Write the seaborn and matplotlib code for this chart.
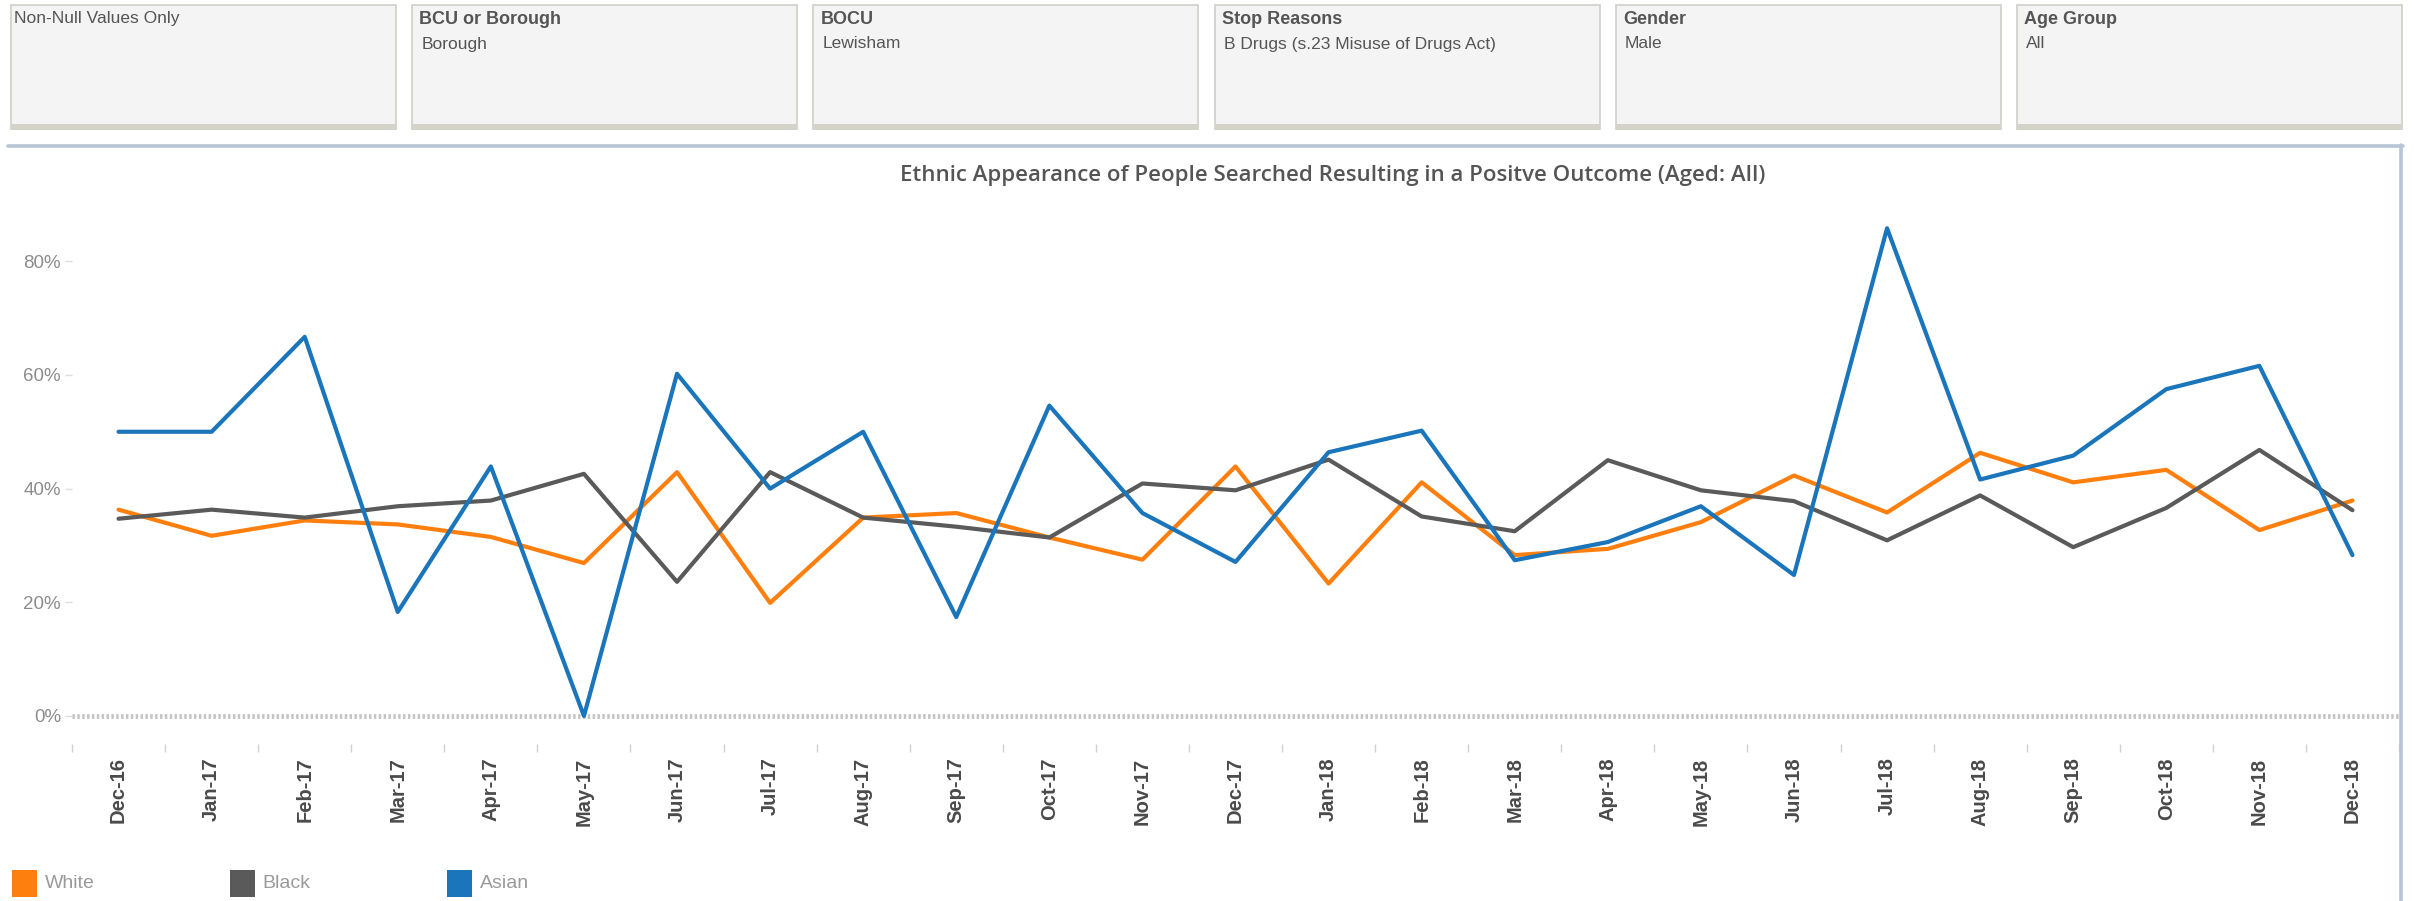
import numpy as np
import pandas as pd
import matplotlib.pyplot as plt
import seaborn as sns
from matplotlib.patches import Rectangle
from matplotlib.lines import Line2D

# data (percent)
months = ['Dec-16', 'Jan-17', 'Feb-17', 'Mar-17', 'Apr-17', 'May-17', 'Jun-17',
          'Jul-17', 'Aug-17', 'Sep-17', 'Oct-17', 'Nov-17', 'Dec-17', 'Jan-18',
          'Feb-18', 'Mar-18', 'Apr-18', 'May-18', 'Jun-18', 'Jul-18', 'Aug-18',
          'Sep-18', 'Oct-18', 'Nov-18', 'Dec-18']
white = [36.3, 31.7, 34.4, 33.7, 31.5, 26.9, 42.9, 19.9, 34.9, 35.7, 31.4, 27.5,
         43.9, 23.3, 41.1, 28.3, 29.4, 34.1, 42.3, 35.8, 46.3, 41.1, 43.3, 32.7, 37.9]
black = [34.7, 36.3, 34.9, 36.9, 37.9, 42.6, 23.6, 42.9, 34.9, 33.3, 31.4, 40.9,
         39.7, 45.1, 35.1, 32.5, 45.0, 39.7, 37.8, 30.9, 38.8, 29.7, 36.6, 46.8, 36.2]
asian = [50.0, 50.0, 66.7, 18.3, 43.9, 0.0, 60.2, 40.0, 50.0, 17.4, 54.6, 35.7,
         27.1, 46.4, 50.2, 27.4, 30.6, 36.9, 24.8, 85.8, 41.6, 45.8, 57.5, 61.6, 28.3]
groups = ['White', 'Black', 'Asian']
colours = {'White': '#ff7f0e', 'Black': '#5a5a5a', 'Asian': '#1b75bb'}
y_ticks = [0, 20, 40, 60, 80]

filter_titles = ['', 'BCU or Borough', 'BOCU', 'Stop Reasons', 'Gender', 'Age Group']
filter_values = ['Non-Null Values Only', 'Borough', 'Lewisham',
                 'B Drugs (s.23 Misuse of Drugs Act)', 'Male', 'All']
title = 'Ethnic Appearance of People Searched Resulting in a Positve Outcome (Aged: All)'

sns.set_style('white')
plt.rcParams['font.family'] = ['Liberation Sans', 'DejaVu Sans']

df = pd.DataFrame({
    'idx': list(range(len(months))) * 3,
    'value': white + black + asian,
    'group': np.repeat(groups, len(months)),
})

W, H = 2414, 901
fig = plt.figure(figsize=(W / 100, H / 100), dpi=100)
fig.patch.set_facecolor('white')


def fx(px):
    return px / W


def fy(py):
    return 1 - py / H


# filter boxes along the top
for i, (t, v) in enumerate(zip(filter_titles, filter_values)):
    left = 11 + i * 401.2
    fig.add_artist(Rectangle((fx(left), fy(129)), fx(385), 124 / H,
                             facecolor='#f4f4f4', edgecolor='#cfcfc8', lw=1.2))
    fig.add_artist(Rectangle((fx(left), fy(130)), fx(385), 6 / H,
                             facecolor='#d3d3c9', edgecolor='none'))
    if t:
        fig.text(fx(left + 7), fy(19), t, fontsize=13, fontweight='bold',
                 color='#555555', va='center', ha='left')
        fig.text(fx(left + 9), fy(44), v, fontsize=12.5, color='#555555',
                 va='center', ha='left')
    else:
        fig.text(fx(left + 3), fy(19), v, fontsize=12.5, color='#555555',
                 va='center', ha='left')

# chart panel border
fig.add_artist(Line2D([fx(8), fx(2403)], [fy(145.5), fy(145.5)],
                      color='#b7c5d6', lw=2.6))
fig.add_artist(Line2D([fx(2401), fx(2401)], [fy(145), fy(901)],
                      color='#b7c5d6', lw=2.6))

fig.text(fx(1333), fy(176), title, fontsize=16, fontweight='semibold',
         family=['Open Sans', 'DejaVu Sans'], color='#555555',
         ha='center', va='center')

ax = fig.add_axes([fx(72), fy(744.4), fx(2399) - fx(72), fy(204.4) - fy(744.4)])
ax.axhline(0, color='#c4c4c4', lw=3.5, ls=(0, (0.5, 0.5)), zorder=1)
sns.lineplot(data=df, x='idx', y='value', hue='group', palette=colours,
             hue_order=groups, linewidth=3, ax=ax, legend=False, sort=False)

ax.set_xlim(-0.5, len(months) - 0.5)
ax.set_ylim(-5, 90)
ax.set_xlabel('')
ax.set_ylabel('')
ax.set_yticks(y_ticks)
ax.set_yticklabels([f'{v}%' for v in y_ticks])
ax.set_xticks(range(len(months)))
ax.set_xticklabels(months, rotation=90)
ax.set_xticks(np.arange(-0.5, len(months), 1), minor=True)
ax.tick_params(axis='y', length=5, width=1, color='#dddddd', labelsize=13.5,
               labelcolor='#8c8c8c', pad=3, left=True)
ax.tick_params(axis='x', which='major', length=0, pad=9.4, labelsize=14.5,
               labelcolor='#4a4a4a')
ax.tick_params(axis='x', which='minor', length=5.8, width=1, color='#d0d0d0',
               bottom=True)
for lab in ax.get_xticklabels():
    lab.set_fontweight('bold')
for s in ax.spines.values():
    s.set_visible(False)
ax.grid(False)

# legend squares at the bottom
for i, g in enumerate(groups):
    x0 = 12 + i * 217.5
    fig.add_artist(Rectangle((fx(x0), fy(897)), fx(25), 27 / H,
                             facecolor=colours[g], edgecolor='none'))
    fig.text(fx(x0 + 33), fy(884), g, fontsize=14, color='#9a9a9a',
             ha='left', va='center')

fig.savefig('out.png', dpi=100)
